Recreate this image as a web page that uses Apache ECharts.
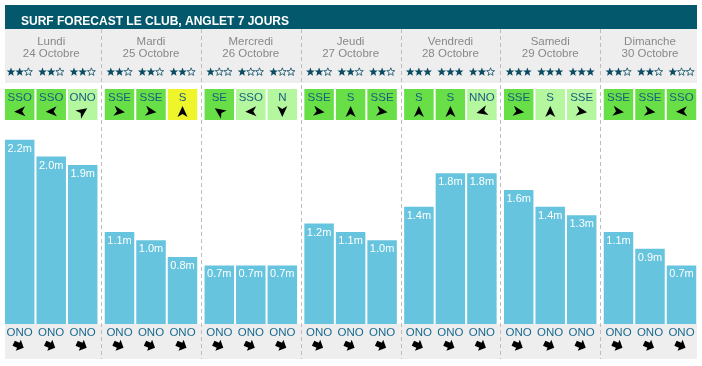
<!DOCTYPE html>
<html>
<head>
<meta charset="utf-8">
<script src="https://cdn.jsdelivr.net/npm/echarts@6/dist/echarts.min.js"></script>
<style>
  html, body { margin: 0; padding: 0; background: #fff; }
  #chart { width: 702px; height: 366px; }
</style>
</head>
<body>
<div id="chart"></div>
<script>
// ---- data ----
const days = ['Lundi', 'Mardi', 'Mercredi', 'Jeudi', 'Vendredi', 'Samedi', 'Dimanche'];
const dates = ['24 Octobre', '25 Octobre', '26 Octobre', '27 Octobre', '28 Octobre', '29 Octobre', '30 Octobre'];
// three forecast slots per day
const waveHeights = [
  2.2, 2.0, 1.9,
  1.1, 1.0, 0.8,
  0.7, 0.7, 0.7,
  1.2, 1.1, 1.0,
  1.4, 1.8, 1.8,
  1.6, 1.4, 1.3,
  1.1, 0.9, 0.7
];
const starRatings = [
  2, 2, 2,
  2, 2, 2,
  1, 1, 1,
  2, 2, 2,
  3, 3, 2,
  3, 3, 3,
  2, 2, 1
];
const windDirs = [
  'SSO', 'SSO', 'ONO',
  'SSE', 'SSE', 'S',
  'SE', 'SSO', 'N',
  'SSE', 'S', 'SSE',
  'S', 'S', 'NNO',
  'SSE', 'S', 'SSE',
  'SSE', 'SSE', 'SSO'
];
// wind quality: g = good, l = light, y = cross
const windQuality = [
  'g', 'g', 'l',
  'g', 'g', 'y',
  'g', 'l', 'l',
  'g', 'g', 'g',
  'g', 'g', 'l',
  'g', 'l', 'l',
  'g', 'g', 'g'
];
const swellDirs = [
  'ONO', 'ONO', 'ONO',
  'ONO', 'ONO', 'ONO',
  'ONO', 'ONO', 'ONO',
  'ONO', 'ONO', 'ONO',
  'ONO', 'ONO', 'ONO',
  'ONO', 'ONO', 'ONO',
  'ONO', 'ONO', 'ONO'
];

// ---- styles ----
const BAR_W = 29.5, GAP = 2, STEP = BAR_W + GAP;
const FONT = 'Arial, "Liberation Sans", sans-serif';
const STAR_COLOR = '#0c4c63';
const windColors = { g: '#68df47', l: '#b4f79e', y: '#eef52b' };
const windArrowAngle = { S: 0, N: 180, SSO: 268, SSE: 98, ONO: 55, SE: 305, NNO: 255 };
const swellArrowAngle = { ONO: 115 };
const NAV_PATH = 'M12 0 L2 22 L12 16 L22 22 Z';
const BLOCK_PATH = 'M6 0 L12.5 6.5 L9 6.5 L9 12 L3 12 L3 6.5 L-0.5 6.5 Z';

function starPoints(cx, cy, R, r) {
  const pts = [];
  for (let j = 0; j < 10; j++) {
    const a = (-90 + j * 36) * Math.PI / 180;
    const rad = j % 2 === 0 ? R : r;
    pts.push([cx + rad * Math.cos(a), cy + rad * Math.sin(a)]);
  }
  return pts;
}

const slotData = [];
days.forEach((_, d) => { for (let k = 0; k < 3; k++) slotData.push([d, k]); });

const chart = echarts.init(document.getElementById('chart'), null, { renderer: 'canvas' });

const barSeries = [0, 1, 2].map(k => ({
  type: 'bar',
  data: days.map((_, d) => waveHeights[d * 3 + k]),
  barWidth: BAR_W,
  barGap: (GAP / BAR_W * 100) + '%',
  itemStyle: { color: '#66c4de' },
  silent: true,
  label: {
    show: true,
    position: 'insideTop',
    distance: 3.5,
    color: '#ffffff',
    fontSize: 11,
    fontFamily: FONT,
    formatter: p => p.value.toFixed(1) + 'm'
  }
}));

const decoSeries = {
  type: 'custom',
  data: slotData,
  encode: { x: 0, y: 1 },
  silent: true,
  z: 5,
  renderItem: function (params, api) {
    const d = api.value(0), k = api.value(1), i = d * 3 + k;
    const center = api.coord([d, 0])[0];
    const band = api.size([1, 0])[0];
    const cx = center + (k - 1) * STEP;
    const children = [];
    if (k === 0 && d > 0) {
      const lx = Math.round(center - band / 2) + 0.5;
      children.push({
        type: 'line',
        shape: { x1: lx, y1: 29, x2: lx, y2: 359 },
        style: { stroke: '#bdbdbd', lineWidth: 1, lineDash: [4, 3] }
      });
    }
    const n = starRatings[i];
    for (let j = 0; j < 3; j++) {
      const filled = j < n;
      children.push({
        type: 'polygon',
        shape: { points: starPoints(cx + (j - 1) * 8.7, 72, filled ? 4.6 : 4.2, filled ? 2.0 : 1.8) },
        style: filled ? { fill: STAR_COLOR } : { fill: 'none', stroke: STAR_COLOR, lineWidth: 0.8 }
      });
    }
    children.push({
      type: 'rect',
      shape: { x: cx - BAR_W / 2, y: 89, width: BAR_W, height: 31 },
      style: { fill: windColors[windQuality[i]] }
    });
    children.push({
      type: 'text',
      style: {
        text: windDirs[i], x: cx, y: 97.5, align: 'center', verticalAlign: 'middle',
        fill: '#175d7e', font: '11.5px ' + FONT
      }
    });
    children.push({
      type: 'path',
      shape: { pathData: NAV_PATH, x: -5, y: -5.5, width: 10, height: 11 },
      x: cx, y: 111.5,
      rotation: -windArrowAngle[windDirs[i]] * Math.PI / 180,
      style: { fill: '#000' }
    });
    children.push({
      type: 'text',
      style: {
        text: swellDirs[i], x: cx, y: 332.5, align: 'center', verticalAlign: 'middle',
        fill: '#1a6a90', font: '11.5px ' + FONT
      }
    });
    children.push({
      type: 'path',
      shape: { pathData: BLOCK_PATH, x: -6, y: -6, width: 12, height: 12 },
      x: cx - 1, y: 345.5,
      rotation: -swellArrowAngle[swellDirs[i]] * Math.PI / 180,
      style: { fill: '#000' }
    });
    return { type: 'group', children };
  }
};

chart.setOption({
  animation: false,
  title: {
    text: 'SURF FORECAST LE CLUB, ANGLET 7 JOURS',
    left: 16, top: 10,
    textStyle: { color: '#ffffff', fontSize: 12, fontWeight: 'bold', fontFamily: FONT, lineHeight: 14 }
  },
  graphic: [
    { type: 'rect', z: 0, shape: { x: 5, y: 5, width: 692, height: 24 }, style: { fill: '#03586b' } },
    { type: 'rect', z: 0, shape: { x: 5, y: 29, width: 692, height: 54 }, style: { fill: '#eeeeee' } },
    { type: 'rect', z: 0, shape: { x: 5, y: 324, width: 692, height: 35 }, style: { fill: '#eeeeee' } }
  ],
  grid: { left: 1.3, right: 2.1, top: 72.9, bottom: 42, containLabel: false },
  xAxis: {
    type: 'category',
    data: days,
    position: 'top',
    axisLine: { show: false },
    axisTick: { show: false },
    splitLine: { show: false },
    axisLabel: {
      interval: 0,
      margin: 12.5,
      color: '#888888',
      fontSize: 11.5,
      fontFamily: FONT,
      lineHeight: 12.5,
      formatter: (v, idx) => v + '\n' + dates[idx]
    }
  },
  yAxis: { type: 'value', min: 0, max: 3, show: false, splitLine: { show: false } },
  series: barSeries.concat([decoSeries])
});
</script>
</body>
</html>
